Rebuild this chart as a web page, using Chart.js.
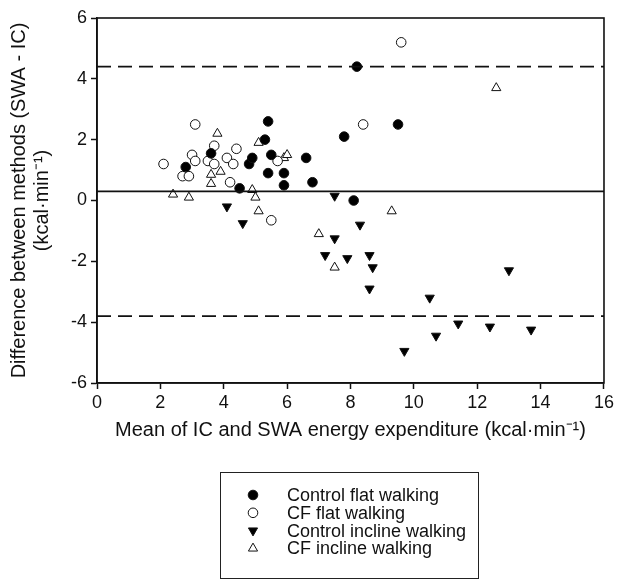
<!DOCTYPE html>
<html>
<head>
<meta charset="utf-8">
<script src="https://cdn.jsdelivr.net/npm/chart.js@4/dist/chart.umd.min.js"></script>
<style>
  html, body { margin: 0; padding: 0; background: #fff; }
  #wrap { width: 617px; height: 585px; }
</style>
</head>
<body>
<div id="wrap"><canvas id="bland"></canvas></div>
<script>
// mean of IC and SWA (x), SWA - IC difference (y)
const controlFlat = [[2.8,1.1],[3.6,1.55],[4.5,0.4],[4.8,1.2],[4.9,1.4],[5.3,2.0],[5.4,2.6],[5.5,1.5],
  [5.4,0.9],[5.9,0.9],[5.9,0.5],[6.6,1.4],[6.8,0.6],[7.8,2.1],[8.1,0],[8.2,4.4],[9.5,2.5]];
const cfFlat = [[3.1,2.5],[2.1,1.2],[3.0,1.5],[3.1,1.3],[2.7,0.8],[2.9,0.8],[3.5,1.3],[3.7,1.8],
  [3.7,1.2],[4.1,1.4],[4.4,1.7],[4.3,1.2],[4.2,0.6],[5.7,1.3],[5.5,-0.65],[8.4,2.5],[9.6,5.2]];
const controlIncline = [[4.1,-0.2],[4.6,-0.75],[7.5,0.15],[8.3,-0.8],[7.5,-1.25],[7.2,-1.8],[7.9,-1.9],
  [8.6,-1.8],[8.7,-2.2],[8.6,-2.9],[10.5,-3.2],[10.7,-4.45],[9.7,-4.95],[11.4,-4.05],[12.4,-4.15],
  [13.0,-2.3],[13.7,-4.25]];
const cfIncline = [[3.8,2.2],[2.4,0.2],[2.9,0.1],[3.6,0.85],[3.6,0.55],[3.9,0.95],[5.1,1.9],[4.85,1.35],
  [4.9,0.35],[5.0,0.1],[5.1,-0.35],[5.9,1.4],[6.0,1.5],[7.0,-1.1],[9.3,-0.35],[7.5,-2.2],[12.6,3.7]];

const meanDiff = 0.3;
const upperLimit = 4.4;
const lowerLimit = -3.8;
const xRange = [0, 16];
const yRange = [-6, 6];

const toPts = arr => arr.map(p => ({ x: p[0], y: p[1] }));
const hLine = v => xRange.map(x => ({ x: x, y: v }));

const FONT = "'Liberation Sans', Arial, sans-serif";

// draws the frame round the plot and the boxed legend underneath
const extras = {
  id: 'extras',
  afterDraw(chart) {
    const ctx = chart.ctx;
    const a = chart.chartArea;
    ctx.save();
    ctx.strokeStyle = '#111';
    ctx.lineWidth = 1.6;
    ctx.strokeRect(a.left, a.top, a.right - a.left, a.bottom - a.top);

    const bx = 220, by = 472, bw = 258, bh = 106;
    ctx.lineWidth = 1;
    ctx.strokeStyle = '#222';
    ctx.strokeRect(bx + 0.5, by + 0.5, bw, bh);

    let y = 495;
    ctx.font = '18px ' + FONT;
    ctx.textBaseline = 'middle';
    ctx.textAlign = 'left';
    chart.data.datasets.forEach(ds => {
      if (!ds.inLegend) return;
      ctx.fillStyle = ds.pointBackgroundColor;
      ctx.strokeStyle = ds.pointBorderColor;
      Chart.helpers.drawPoint(ctx, {
        pointStyle: ds.pointStyle,
        rotation: ds.pointRotation || 0,
        radius: ds.pointRadius,
        borderWidth: 1
      }, 253, y);
      ctx.fillStyle = '#111';
      ctx.fillText(ds.label, 287, y + 1);
      y += 17.8;
    });
    ctx.restore();
  }
};

function scatterSet(label, pts, style, fill, rot, r) {
  return {
    type: 'scatter',
    label: label,
    inLegend: true,
    data: toPts(pts),
    pointStyle: style,
    pointRotation: rot,
    pointRadius: r,
    pointHoverRadius: r,
    pointBackgroundColor: fill,
    pointBorderColor: '#111',
    pointBorderWidth: 1
  };
}

function lineSet(v, dash) {
  return {
    type: 'line',
    data: hLine(v),
    borderColor: '#111',
    borderWidth: 1.6,
    borderDash: dash,
    pointRadius: 0,
    fill: false
  };
}

new Chart(document.getElementById('bland'), {
  data: {
    datasets: [
      lineSet(meanDiff, []),
      lineSet(upperLimit, [14, 7]),
      lineSet(lowerLimit, [14, 7]),
      scatterSet('Control flat walking', controlFlat, 'circle', '#000', 0, 4.8),
      scatterSet('CF flat walking', cfFlat, 'circle', '#fff', 0, 4.8),
      scatterSet('Control incline walking', controlIncline, 'triangle', '#000', 180, 5.3),
      scatterSet('CF incline walking', cfIncline, 'triangle', '#fff', 0, 5.3)
    ]
  },
  options: {
    responsive: true,
    maintainAspectRatio: false,
    animation: false,
    layout: { padding: { top: 18, right: 12, bottom: 143, left: 0 } },
    plugins: {
      legend: { display: false },
      tooltip: { enabled: false }
    },
    scales: {
      x: {
        type: 'linear',
        min: xRange[0],
        max: xRange[1],
        afterFit: s => { s.height = 59; },
        ticks: { stepSize: 2, color: '#111', font: { family: FONT, size: 18 }, padding: 3, maxRotation: 0 },
        grid: { drawOnChartArea: false, tickLength: 6, color: '#111', tickWidth: 1.5 },
        border: { color: '#111', width: 1.6 },
        title: {
          display: true,
          text: 'Mean of IC and SWA energy expenditure (kcal\u00b7min\u207b\u00b9)',
          color: '#111',
          font: { family: FONT, size: 20 },
          padding: 0
        }
      },
      y: {
        type: 'linear',
        min: yRange[0],
        max: yRange[1],
        afterFit: s => { s.width = 97; },
        ticks: { stepSize: 2, color: '#111', font: { family: FONT, size: 18 }, padding: 4 },
        grid: { drawOnChartArea: false, tickLength: 6, color: '#111', tickWidth: 1.5 },
        border: { color: '#111', width: 1.6 },
        title: {
          display: true,
          text: ['Difference between methods (SWA - IC)', '(kcal\u00b7min\u207b\u00b9)'],
          color: '#111',
          font: { family: FONT, size: 20, lineHeight: 1.15 },
          padding: { top: 8, bottom: 0 }
        }
      }
    }
  },
  plugins: [extras]
});
</script>
</body>
</html>
